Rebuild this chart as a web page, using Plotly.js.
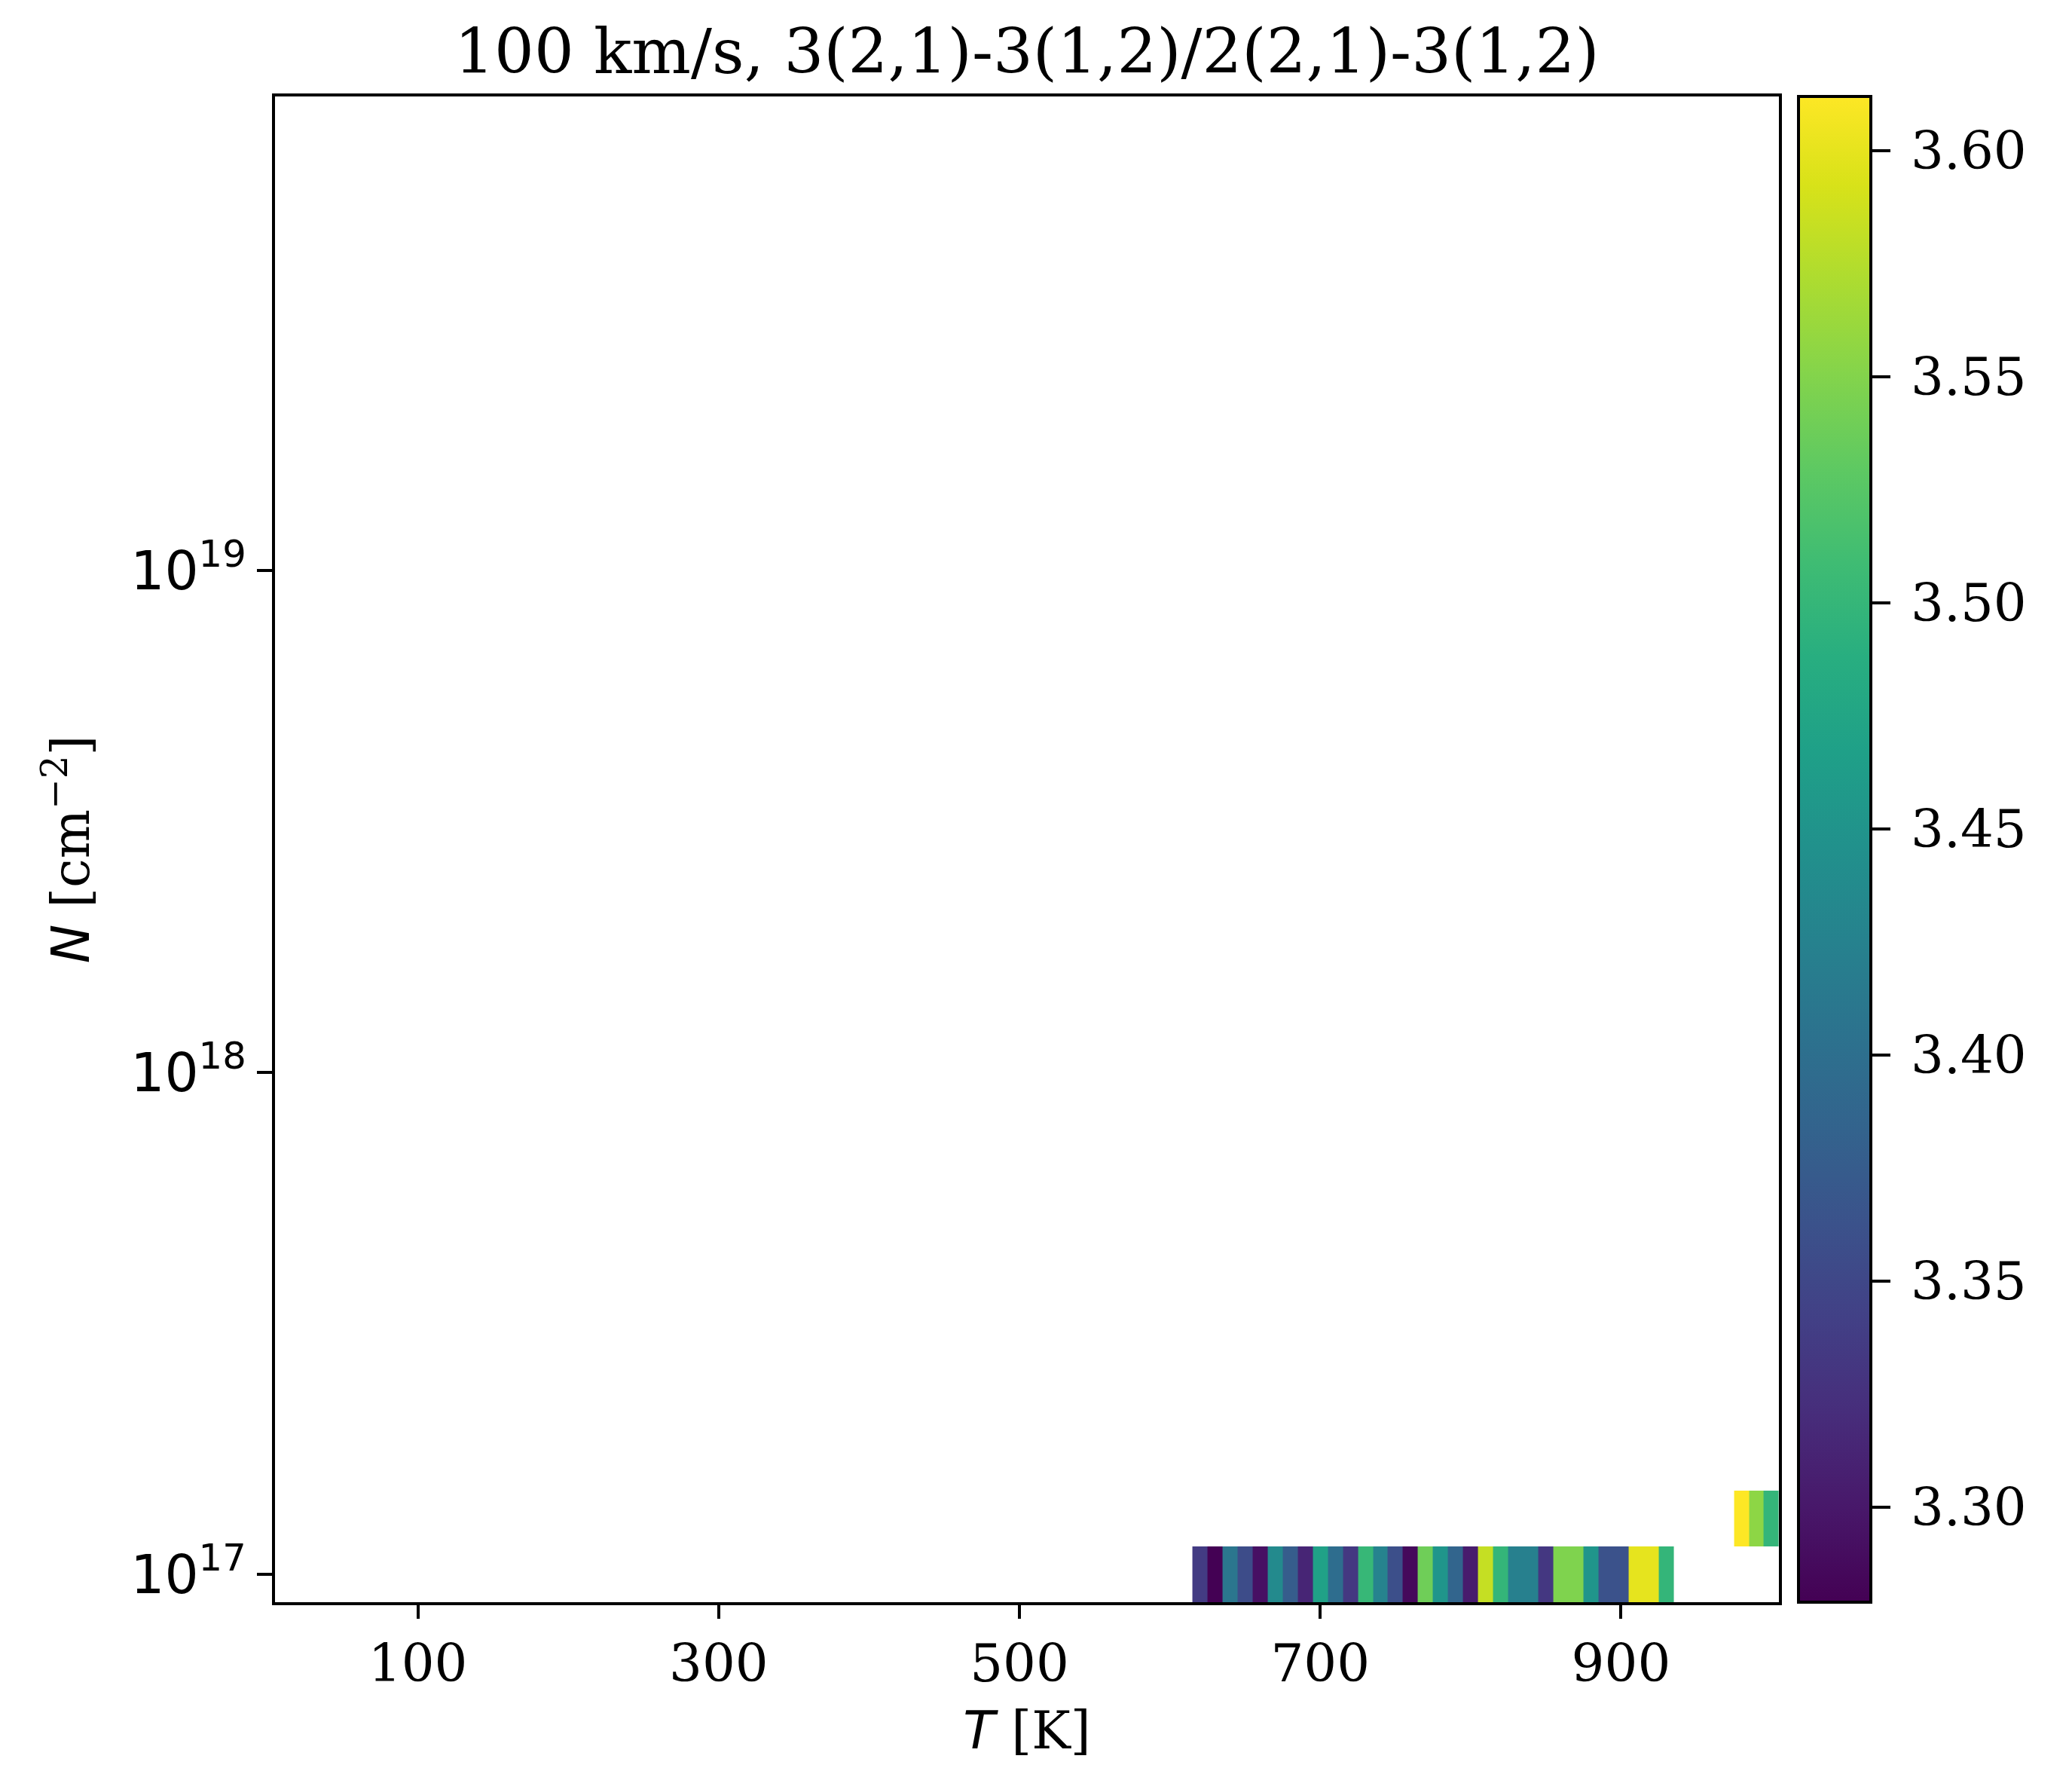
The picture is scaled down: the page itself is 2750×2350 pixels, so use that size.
<!DOCTYPE html>
<html>
<head>
<meta charset="utf-8">
<script src="https://cdn.plot.ly/plotly-3.0.1.min.js"></script>
<style>
    body { margin: 0; background: #fff; }
    #graph { width: 2750px; height: 2350px; }
</style>
</head>
<body>
<div id="graph"></div>
<script>
// temperature grid [K] of the columns that hold data
const temps = [620, 630, 640, 650, 660, 670, 680, 690, 700, 710, 720, 730, 740, 750, 760, 770, 780, 790, 800,
    810, 820, 830, 840, 850, 860, 870, 880, 890, 900, 910, 920, 930, 940, 950, 960, 970, 980, 990, 1000];
// column densities [cm^-2] of the rows that hold data
const densities = [1.0e17, 1.2915e17];

// line ratio 3(2,1)-3(1,2) / 2(2,1)-3(1,2), one array per row
const ratio_row0 = [3.336, 3.279, 3.409, 3.356, 3.293, 3.436, 3.376, 3.313, 3.469, 3.397, 3.333, 3.502, 3.426,
    3.359, 3.286, 3.539, 3.452, 3.386, 3.304, 3.583, 3.499, 3.422, 3.422, 3.332, 3.548, 3.548, 3.452, 3.362,
    3.362, 3.600, 3.600, 3.499, null, null, null, null, null, null, null];
const ratio_row1 = [null, null, null, null, null, null, null, null, null, null, null, null, null, null, null,
    null, null, null, null, null, null, null, null, null, null, null, null, null, null, null, null, null,
    null, null, null, null, 3.612, 3.555, 3.499];

const y_ticks = [1e17, 1e18, 1e19];
const y_ticktext = ['10<sup>17</sup>', '10<sup>18</sup>', '10<sup>19</sup>'];
const x_ticks = [100, 300, 500, 700, 900];

// row edges half way between rows in log space
function log_edges(vals) {
    let edges = [];
    let n = vals.length;
    edges.push(Math.pow(vals[0], 1.5) / Math.sqrt(vals[1]));
    for (let i = 1; i < n; i++) {
        edges.push(Math.sqrt(vals[i - 1] * vals[i]));
    }
    edges.push(Math.pow(vals[n - 1], 1.5) / Math.sqrt(vals[n - 2]));
    return edges;
}

const serif = 'DejaVu Serif, serif';
const sans = 'DejaVu Sans, sans-serif';

let heat = {
    type: 'heatmap',
    x: temps,
    y: log_edges(densities),
    z: [ratio_row0, ratio_row1],
    colorscale: 'Viridis',
    hoverinfo: 'skip',
    colorbar: {
        x: 1.013,
        xanchor: 'left',
        xpad: 0,
        y: 0.5,
        yanchor: 'middle',
        ypad: 0,
        len: 1,
        lenmode: 'fraction',
        thickness: 96,
        outlinewidth: 4,
        outlinecolor: '#000',
        ticks: 'outside',
        ticklen: 24,
        tickwidth: 4,
        tickcolor: '#000',
        dtick: 0.05,
        tick0: 3.3,
        tickformat: '.2f',
        tickprefix: '\u2009',
        tickfont: {family: serif, size: 69, color: '#000'},
    },
};

let layout = {
    width: 2750,
    height: 2350,
    paper_bgcolor: '#fff',
    plot_bgcolor: '#fff',
    margin: {l: 365, r: 389, t: 128, b: 224},
    title: {
        text: '100 km/s, 3(2,1)-3(1,2)/2(2,1)-3(1,2)',
        font: {family: serif, size: 83, color: '#000'},
        x: 0.5,
        xref: 'paper',
        xanchor: 'center',
        y: 1,
        yref: 'paper',
        yanchor: 'bottom',
        pad: {b: 31},
    },
    xaxis: {
        range: [5, 1005],
        tickvals: x_ticks,
        ticks: 'outside',
        ticklen: 18,
        tickwidth: 4,
        tickcolor: '#000',
        tickfont: {family: serif, size: 69, color: '#000'},
        showline: true,
        linewidth: 4,
        linecolor: '#000',
        mirror: true,
        showgrid: false,
        zeroline: false,
        title: {
            text: '<span style="font-family:DejaVu Sans"><i>T</i></span> [K]',
            font: {family: serif, size: 69, color: '#000'},
            standoff: 27,
        },
    },
    yaxis: {
        type: 'log',
        range: [16.9444, 19.9444],
        tickvals: y_ticks,
        ticktext: y_ticktext,
        ticks: 'outside',
        ticklen: 20,
        tickwidth: 4,
        tickcolor: '#000',
        tickfont: {family: sans, size: 71, color: '#000'},
        showline: true,
        linewidth: 4,
        linecolor: '#000',
        mirror: true,
        showgrid: false,
        zeroline: false,
        title: {
            text: '<span style="font-family:DejaVu Sans"><i>N</i></span> [cm<sup>\u22122</sup>]',
            font: {family: serif, size: 69, color: '#000'},
            standoff: 33,
        },
    },
};

let config = {staticPlot: true, displayModeBar: false};

Plotly.newPlot('graph', [heat], layout, config);
</script>
</body>
</html>
